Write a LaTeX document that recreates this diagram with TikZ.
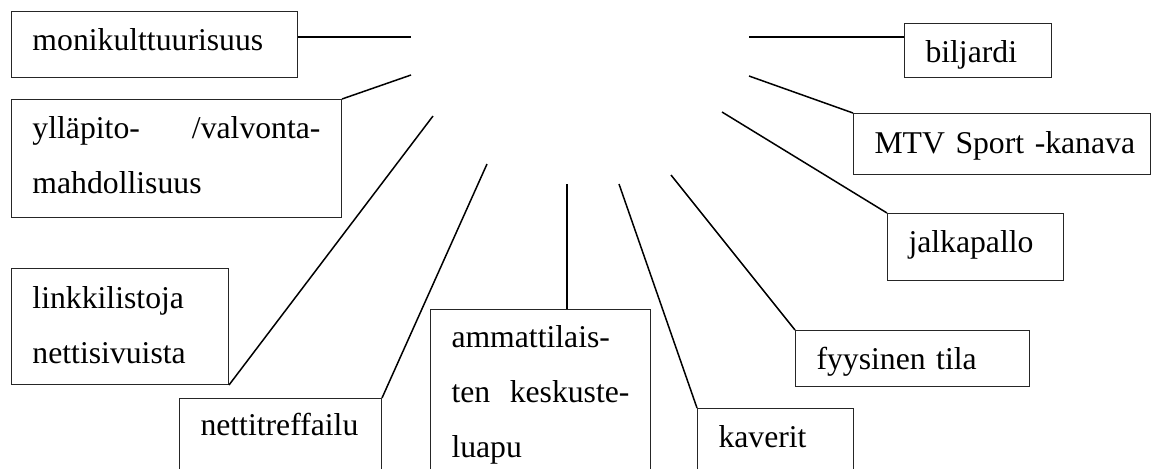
\documentclass[tikz,border=0pt]{standalone}
\usepackage{fontspec}
\setmainfont{Liberation Serif}
\usetikzlibrary{calc}

\begin{document}
\begin{tikzpicture}[x=0.5pt, y=-0.5pt,
    laatikko/.style={draw=black!85, line width=0.5pt, anchor=north west,
      inner xsep=10.5pt, inner ysep=0pt, align=left,
      font=\fontsize{15.85}{27.5}\selectfont},
    viiva/.style={line width=0.75pt}]
    \useasboundingbox (0,0) rectangle (1152,468);
    \clip (0,0) rectangle (1152,468);
    % laatikot
    \node[laatikko, text width=122pt, text height=19.5pt, text depth=13.5pt] (M) at (11,11) {monikulttuurisuus};
    \node[laatikko, text width=144pt, text height=19.5pt, text depth=39.5pt] (Y) at (11,99) {ylläpito-\hfill/valvonta-\\mahdollisuus};
    \node[laatikko, text width=87.5pt, text height=20pt, text depth=38pt] (L) at (11,268) {linkkilistoja\\nettisivuista};
    \node[laatikko, text width=80pt, text height=18.5pt, text depth=40pt] (N) at (179,398) {nettitreffailu};
    \node[laatikko, text width=89pt, text height=19pt, text depth=90pt] (A) at (430,309) {ammattilais-\\ten\hfill keskuste-\\luapu};
    \node[laatikko, text width=57pt, text height=19.5pt, text depth=40pt] (K) at (697,408) {kaverit};
    \node[laatikko, text width=96pt, text height=19.5pt, text depth=8.5pt] (F) at (795,330) {fyysinen tila};
    \node[laatikko, text width=67pt, text height=19.5pt, text depth=14pt] (J) at (887,213) {jalkapallo};
    \node[laatikko, text width=127.5pt, text height=20pt, text depth=10.5pt] (T) at (853,113) {\mbox{MTV Sport -kanava}};
    \node[laatikko, text width=52.5pt, text height=19.5pt, text depth=7.5pt] (B) at (904,23) {biljardi};
    % vapaat päät
    \coordinate (m) at (411,37);
    \coordinate (y) at (411,75);
    \coordinate (l) at (433,116);
    \coordinate (n) at (487,164);
    \coordinate (a) at (567,184);
    \coordinate (k) at (619,184);
    \coordinate (f) at (671,175);
    \coordinate (j) at (722,112);
    \coordinate (t) at (749,76);
    \coordinate (b) at (749,37);
    % viivat
    \draw[viiva] (m -| M.east) -- (m);
    \draw[viiva] (Y.north east) -- (y);
    \draw[viiva] (L.south east) -- (l);
    \draw[viiva] (N.north east) -- (n);
    \draw[viiva] (a |- A.north) -- (a);
    \draw[viiva] (K.north west) -- (k);
    \draw[viiva] (F.north west) -- (f);
    \draw[viiva] (J.north west) -- (j);
    \draw[viiva] (T.north west) -- (t);
    \draw[viiva] (b -| B.west) -- (b);
\end{tikzpicture}
\end{document}
